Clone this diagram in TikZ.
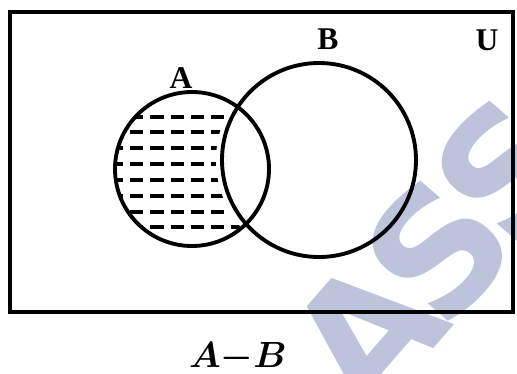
\documentclass[tikz,border=0pt]{standalone}
\usepackage{amsmath}
\usepackage{fontspec}
\setmainfont{Liberation Serif}
\newfontfamily\markfont{DejaVu Sans}
\usepackage{xcolor}
\usetikzlibrary{positioning}
\definecolor{markblue}{RGB}{190,195,220}
\tikzset{
setline/.style={
draw,
line width=2.2pt
},
hatchline/.style={
line width=2.2pt,
dash pattern=on 7.5pt off 4pt
},
setlabel/.style={
font=\fontsize{18}{20}\selectfont\bfseries,
inner sep=0pt
}
}

\begin{document}
\begin{tikzpicture}[x=0.02cm,y=-0.02cm]

\useasboundingbox (0,0) rectangle (517,373);

% watermark
\begin{scope}
\clip (0,0) rectangle (517,373);
\node[text=markblue,font=\markfont\fontsize{96}{98}\selectfont\bfseries,rotate=49,inner sep=0pt](mark) at (435,253){A\kern-9pt S\kern-9pt S};
\end{scope}

% A - B shading
\begin{scope}
\clip (192,169) circle (77);
\foreach \y in {117,132,148,164,180,196,212,227}
\draw[hatchline] (110,\y) -- (275,\y);
\fill[white] (319,160) circle (103);
\end{scope}

\draw[setline] (10,12) rectangle (513,312);
\draw[setline] (192,169) circle (77);
\draw[setline] (319,160) circle (97);

\node[setlabel](la) at (181,78){A};
\node[setlabel](lb) at (328,39){B};
\node[setlabel](lu) at (487,40){U};

\node[font=\fontsize{21}{24}\selectfont,inner sep=0pt](cap) at (238,357){$\boldsymbol{A{-}B}$};

\end{tikzpicture}
\end{document}
